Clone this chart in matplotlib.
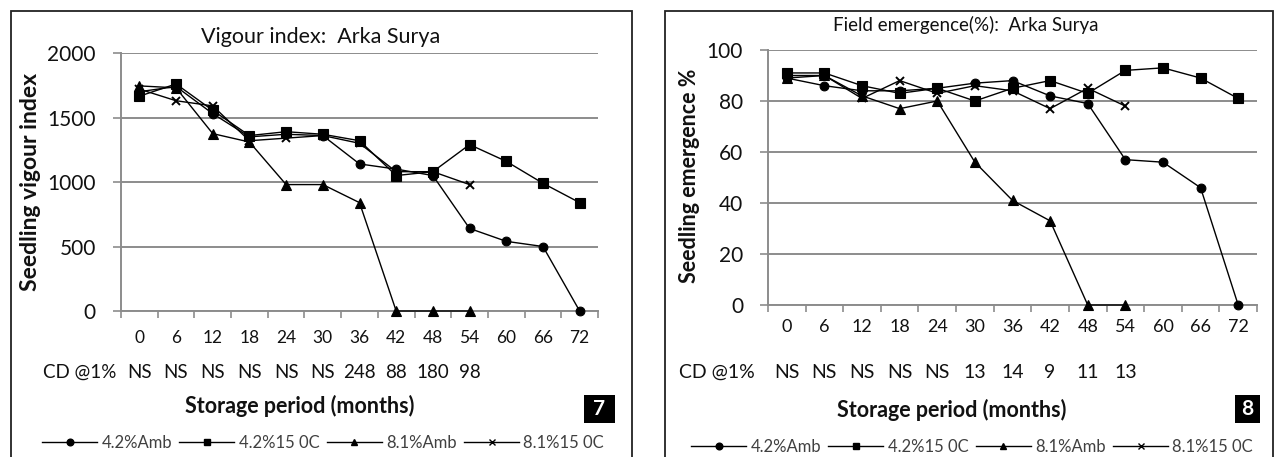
import matplotlib
matplotlib.use("Agg")
import matplotlib.pyplot as plt
from matplotlib.lines import Line2D
from matplotlib.patches import Rectangle
import matplotlib.transforms as mtrans

plt.rcParams['font.family'] = ['Lato', 'DejaVu Sans']

# ---------------- data ----------------
months = ["0", "6", "12", "18", "24", "30", "36", "42", "48", "54", "60", "66", "72"]
series_names = ["4.2%Amb", "4.2%15 0C", "8.1%Amb", "8.1%15 0C"]

vig_42amb = [1700, 1740, 1530, 1350, 1370, 1360, 1140, 1100, 1050, 640, 540, 500, 0]
vig_42c15 = [1665, 1760, 1555, 1360, 1390, 1370, 1320, 1050, 1080, 1290, 1160, 990, 840]
vig_81amb = [1745, 1730, 1375, 1310, 980, 980, 840, 0, 0, 0]
vig_81c15 = [1720, 1630, 1590, 1320, 1340, 1360, 1300, 1080, 1080, 980]
cd_vigour = ["NS", "NS", "NS", "NS", "NS", "NS", "248", "88", "180", "98"]

fe_42amb = [89, 86, 84, 84, 85, 87, 88, 82, 79, 57, 56, 46, 0]
fe_42c15 = [91, 91, 86, 83, 85, 80, 85, 88, 83, 92, 93, 89, 81]
fe_81amb = [89, 90, 82, 77, 80, 56, 41, 33, 0, 0]
fe_81c15 = [90, 90, 81, 88, 83, 86, 84, 77, 85, 78]
cd_field = ["NS", "NS", "NS", "NS", "NS", "13", "14", "9", "11", "13"]

W, H = 1276, 457
fig = plt.figure(figsize=(W / 100, H / 100), dpi=100)
fig.patch.set_facecolor("white")

def fx(px):
    return px / W

def fy(py):
    return 1 - py / H

def axes_box(x0, x1, ytop, ybot):
    return [fx(x0), fy(ybot), fx(x1) - fx(x0), fy(ytop) - fy(ybot)]

markers = ["o", "s", "^", "x"]
msizes = [6.3, 6.8, 6.8, 5.2]
grid_col = "#8c8c8c"
txt_col = "#111111"

def draw_panel(box, panel_x0, panel_x1, title, title_x, title_y, title_size, ylabel,
               ylabel_size, ymax, ystep, series, cd, cd_x, cd_y, cd_size, num, num_box,
               leg_x, leg_y, xlabel_x, xlabel_y, ylabel_x, ylabel_y, xtick_size, xtick_pad):
    # panel border
    fig.patches.append(Rectangle((fx(panel_x0), fy(H + 20)), fx(panel_x1) - fx(panel_x0),
                                 fy(11) - fy(H + 20), transform=fig.transFigure,
                                 fill=False, edgecolor="#222222", lw=1.3))
    ax = fig.add_axes(box)
    n = len(months)
    for vals, m, ms in zip(series, markers, msizes):
        ax.plot(range(len(vals)), vals, color="black", lw=1.0, marker=m,
                markersize=ms, markeredgewidth=1.4 if m == "x" else 0.8,
                markerfacecolor="black", markeredgecolor="black", zorder=3, clip_on=False)
    ax.set_xlim(-0.5, n - 0.5)
    ax.set_ylim(0, ymax)
    ax.set_yticks(range(0, ymax + 1, ystep))
    ax.yaxis.grid(True, color=grid_col, lw=1.4)
    ax.set_axisbelow(True)
    for s in ["top", "right"]:
        ax.spines[s].set_visible(False)
    for s in ["left", "bottom"]:
        ax.spines[s].set_color(grid_col)
        ax.spines[s].set_linewidth(1.4)
    ax.set_xticks([i - 0.5 for i in range(n + 1)])
    ax.set_xticklabels([])
    ax.set_xticks(range(n), minor=True)
    ax.set_xticklabels(months, minor=True, fontsize=xtick_size, color=txt_col)
    ax.tick_params(axis="x", which="major", length=5, width=1.2, color=grid_col, direction="out")
    ax.tick_params(axis="x", which="minor", length=0, pad=xtick_pad)
    ax.tick_params(axis="y", length=6, width=1.2, color=grid_col, labelsize=15, pad=12,
                   labelcolor=txt_col)
    fig.text(fx(ylabel_x), fy(ylabel_y), ylabel, rotation=90, ha="center", va="center",
             fontsize=ylabel_size, fontweight="bold", color=txt_col)
    fig.text(fx(title_x), fy(title_y), title, ha="center", va="center",
             fontsize=title_size, color=txt_col)
    # CD row
    fig.text(fx(cd_x), fy(cd_y), "CD @1%", ha="left", va="center", fontsize=cd_size,
             color=txt_col)
    tr = mtrans.blended_transform_factory(ax.transData, fig.transFigure)
    for i, c in enumerate(cd):
        fig.text(i, fy(cd_y), c, transform=tr, ha="center", va="center",
                 fontsize=cd_size, color=txt_col)
    fig.text(fx(xlabel_x), fy(xlabel_y), "Storage period (months)", ha="center", va="center",
             fontsize=15.5, fontweight="bold", color=txt_col)
    bx0, by0, bw, bh = num_box
    fig.patches.append(Rectangle((fx(bx0), fy(by0 + bh)), fx(bw), bh / H,
                                 transform=fig.transFigure, facecolor="black", edgecolor="none"))
    fig.text(fx(bx0 + bw / 2), fy(by0 + bh / 2), num, ha="center", va="center",
             fontsize=15, fontweight="bold", color="white")
    handles = [Line2D([0], [0], color="black", lw=1.0, marker=m, markersize=4.8,
                      markerfacecolor="black", markeredgecolor="black") for m in markers]
    fig.legend(handles, series_names, loc="center", ncol=4,
               bbox_to_anchor=(fx(leg_x), fy(leg_y)),
               frameon=False, fontsize=12, handlelength=3.3, handletextpad=0.25,
               columnspacing=0.45, labelcolor="#404040", borderpad=0.1)
    return ax

draw_panel(axes_box(121, 598, 53, 311), 11, 632, "Vigour index:  Arka Surya", 321, 37, 15.5,
           "Seedling vigour index", 16.5, 2000, 500,
           [vig_42amb, vig_42c15, vig_81amb, vig_81c15], cd_vigour, 43, 372, 13.5,
           "7", (584, 395, 31, 28), 323, 443, 300, 406, 31, 182, 12.5, 14)

draw_panel(axes_box(768, 1257, 50, 305), 665, 1273, "Field emergence(%):  Arka Surya", 966, 25, 13.5,
           "Seedling emergence %", 15.5, 100, 20,
           [fe_42amb, fe_42c15, fe_81amb, fe_81c15], cd_field, 679, 372, 14,
           "8", (1235, 395, 25, 28), 972, 447, 952, 410, 689, 176, 13, 10)

fig.savefig("out.png", dpi=100)
